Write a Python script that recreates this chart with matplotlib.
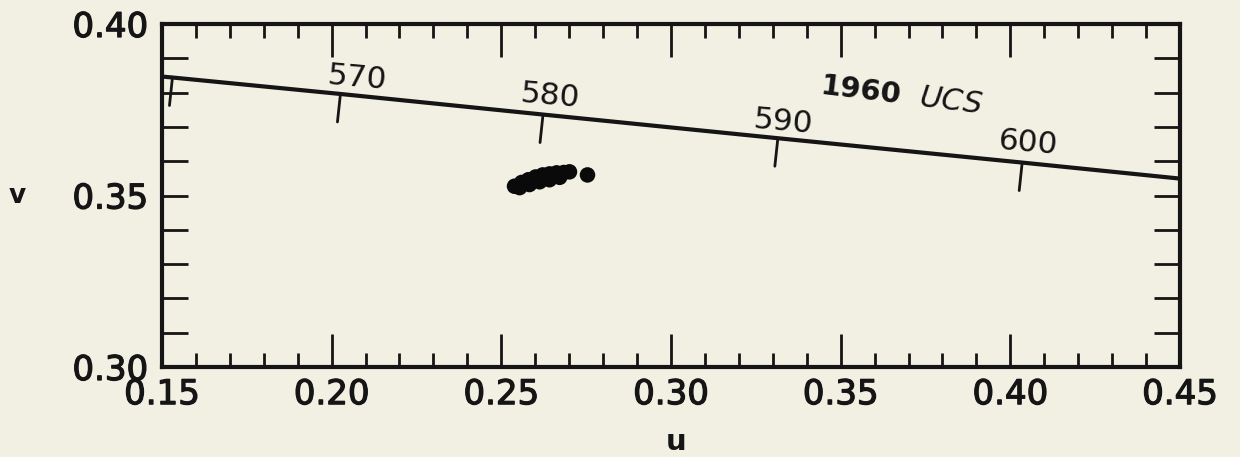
import matplotlib
matplotlib.use('Agg')
import matplotlib.pyplot as plt
import matplotlib.patheffects as pe
from matplotlib.ticker import MultipleLocator

# measured chromaticity points (u, v)
u_pts = [0.2539, 0.2560, 0.2580, 0.2601, 0.2622, 0.2642, 0.2663, 0.2684,
         0.2701, 0.2554, 0.2583, 0.2613, 0.2642, 0.2672, 0.2754]
v_pts = [0.3527, 0.3538, 0.3546, 0.3554, 0.3560, 0.3563, 0.3566, 0.3567,
         0.3569, 0.3523, 0.3532, 0.3540, 0.3546, 0.3553, 0.3560]

# spectral locus in the 1960 UCS diagram
locus_nm = [550, 560, 570, 580, 590, 600, 610]
locus_u = [0.1127, 0.1531, 0.2026, 0.2623, 0.3315, 0.4035, 0.4692]
locus_v = [0.3880, 0.3844, 0.3796, 0.3736, 0.3667, 0.3596, 0.3530]
labeled_nm = [570, 580, 590, 600]
diagram_label = ['1960', 'UCS']

x_ticks = [0.15, 0.20, 0.25, 0.30, 0.35, 0.40, 0.45]
y_ticks = [0.30, 0.35, 0.40]

# layout (pixel offsets of wavelength labels from the locus point)
label_offsets = {570: (17, 16), 580: (7, 18), 590: (5, 16), 600: (6, 19)}

BG = '#f2efe3'
INK = '#151515'
thick = [pe.withStroke(linewidth=0.9, foreground=INK)]

fig = plt.figure(figsize=(12.4, 4.57), dpi=100, facecolor=BG)
ax = fig.add_axes([0.1306, 0.1969, 0.8210, 0.7506])
ax.set_facecolor(BG)

ax.plot(locus_u, locus_v, color=INK, lw=3, solid_capstyle='butt', zorder=3)

xmin, xmax = x_ticks[0], x_ticks[-1]
for nm, u, v in zip(locus_nm, locus_u, locus_v):
    if not (xmin <= u <= xmax):
        continue
    ax.annotate('', xy=(u, v), xytext=(-3, -28), textcoords='offset pixels',
                arrowprops=dict(arrowstyle='-', lw=2, color=INK,
                                shrinkA=0, shrinkB=0))
    if nm in labeled_nm:
        ax.annotate(str(nm), xy=(u, v), xytext=label_offsets[nm],
                    textcoords='offset pixels', ha='center', va='center',
                    rotation=-5, fontsize=22.5, color=INK)

ax.text(0.3561, 0.3806, diagram_label[0], rotation=-7, fontsize=21,
        fontweight='bold', color=INK, ha='center', va='center')
ax.text(0.3826, 0.3774, diagram_label[1], rotation=-7, fontsize=22,
        fontstyle='italic', color=INK, ha='center', va='center')

ax.scatter(u_pts, v_pts, s=125, color='#0a0a0a', edgecolors='none', zorder=4)

ax.set_xlim(xmin, xmax)
ax.set_ylim(y_ticks[0], y_ticks[-1])
ax.set_xticks(x_ticks)
ax.set_yticks(y_ticks)
ax.set_xticklabels([f'{t:.2f}' for t in x_ticks])
ax.set_yticklabels([f'{t:.2f}' for t in y_ticks])
ax.xaxis.set_minor_locator(MultipleLocator(0.01))
ax.yaxis.set_minor_locator(MultipleLocator(0.01))

ax.tick_params(which='both', direction='in', top=True, right=True,
               color=INK, width=2)
ax.tick_params(axis='x', which='major', length=24, labelsize=24.5, pad=8,
               labelcolor=INK)
ax.tick_params(axis='x', which='minor', length=10)
ax.tick_params(axis='y', which='both', length=19)
ax.tick_params(axis='y', which='major', labelsize=24.5, pad=10, labelcolor=INK)
for lab in ax.get_xticklabels() + ax.get_yticklabels():
    lab.set_path_effects(thick)

for sp in ax.spines.values():
    sp.set_linewidth(3)
    sp.set_color(INK)

ax.set_xlabel('u', fontsize=21, fontweight='bold', color=INK)
ax.set_ylabel('v', fontsize=19, fontweight='bold', color=INK, rotation=0)
ax.xaxis.set_label_coords(0.505, -0.2595)
ax.yaxis.set_label_coords(-0.1424, 0.4985)
ax.xaxis.label.set_va('bottom')
ax.xaxis.label.set_ha('center')
ax.yaxis.label.set_va('center')
ax.yaxis.label.set_ha('center')

fig.savefig('out.png', dpi=100, facecolor=BG)
